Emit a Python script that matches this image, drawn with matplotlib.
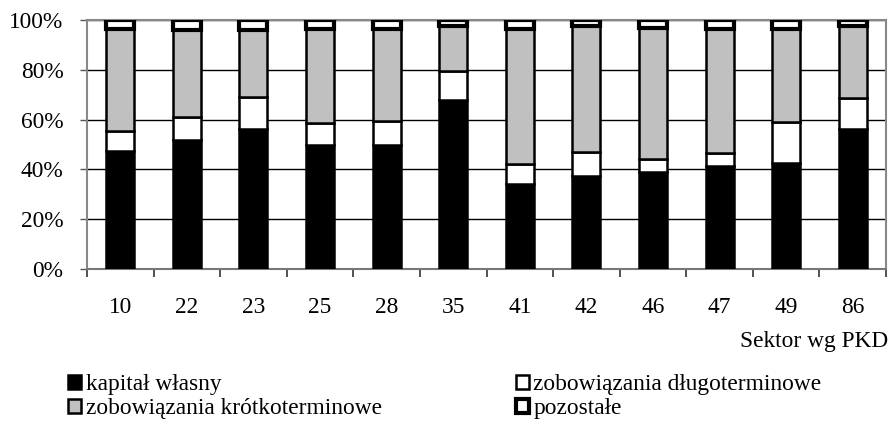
import matplotlib
matplotlib.use("Agg")
import matplotlib.pyplot as plt
import numpy as np

plt.rcParams['font.family'] = ['Liberation Serif', 'DejaVu Serif']

sectors = ["10", "22", "23", "25", "28", "35", "41", "42", "46", "47", "49", "86"]
kapital = [47.5, 51.8, 56.3, 49.8, 49.8, 68.0, 34.0, 37.5, 38.8, 41.5, 42.7, 56.1]
dlugo   = [8.0, 9.4, 12.7, 8.7, 9.8, 11.4, 8.0, 9.6, 5.3, 5.0, 16.2, 12.6]
krotko  = [40.9, 34.8, 27.0, 37.9, 36.8, 18.3, 54.4, 50.6, 52.6, 49.9, 37.5, 29.0]
pozost  = [3.6, 4.0, 4.0, 3.6, 3.6, 2.3, 3.6, 2.3, 3.3, 3.6, 3.6, 2.3]

labels = ["kapitał własny", "zobowiązania długoterminowe",
          "zobowiązania krótkoterminowe", "pozostałe"]

FS = 16.8

fig = plt.figure(figsize=(8.92, 4.26), dpi=100)
ax = fig.add_axes([87/892, 1-269/426, 799/892, 249/426])

x = np.arange(len(sectors))
w = 0.42
lw = 1.8
b1 = ax.bar(x, kapital, w, color='black', edgecolor='black', linewidth=lw, zorder=3)
b2 = ax.bar(x, dlugo, w, bottom=kapital, color='white', edgecolor='black', linewidth=lw, zorder=3)
bot3 = np.array(kapital) + np.array(dlugo)
b3 = ax.bar(x, krotko, w, bottom=bot3, color='#c0c0c0', edgecolor='black', linewidth=lw, zorder=3)
bot4 = bot3 + np.array(krotko)
b4 = ax.bar(x, pozost, w, bottom=bot4, color='white', edgecolor='black', linewidth=3.0, zorder=3)

ax.set_xlim(-0.5, len(sectors) - 0.5)
ax.set_ylim(0, 100)
ax.set_yticks(np.arange(0, 101, 20))
ax.set_yticklabels([f"{v}%" for v in range(0, 101, 20)], fontsize=FS)
ax.yaxis.grid(True, color='black', linewidth=1.0, zorder=0)
ax.set_axisbelow(True)

ax.set_xticks(np.arange(-0.5, len(sectors), 1.0))
ax.set_xticklabels([])
ax.set_xticks(x, minor=True)
ax.set_xticklabels(sectors, minor=True, fontsize=FS)
ax.tick_params(axis='x', which='minor', length=0, pad=20)
ax.tick_params(axis='x', which='major', length=6, width=1.2, color='#333333')
ax.tick_params(axis='y', length=5, width=1.0, color='#555555', pad=12)

for s in ['top', 'right', 'left']:
    ax.spines[s].set_color('#888888')
    ax.spines[s].set_linewidth(1.5)
ax.spines['bottom'].set_color('#777777')
ax.spines['bottom'].set_linewidth(1.5)

fig.text(888/892, 1-342/426, "Sektor wg PKD", ha='right', va='center', fontsize=FS)

leg = fig.legend([b1, b3, b2, b4], [labels[0], labels[2], labels[1], labels[3]],
                 loc='upper left', bbox_to_anchor=(68/892, 1-374/426), ncol=2,
                 frameon=False, fontsize=FS, handlelength=0.55, handleheight=0.55,
                 handletextpad=0.2, columnspacing=5.75, labelspacing=0.12,
                 borderaxespad=0, borderpad=0)

fig.savefig("out.png", dpi=100)
